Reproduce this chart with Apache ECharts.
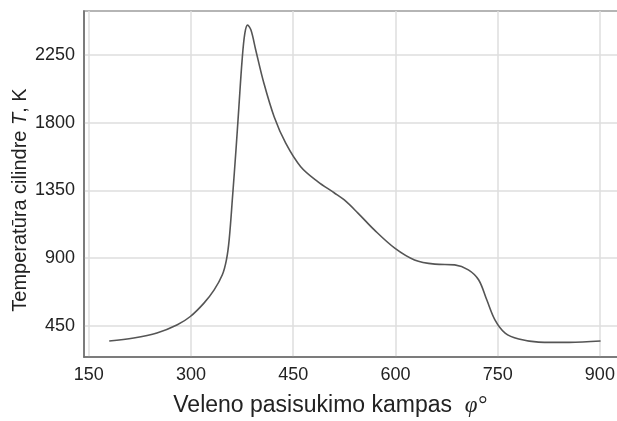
<!DOCTYPE html>
<html>
<head>
<meta charset="utf-8">
<script src="https://cdn.jsdelivr.net/npm/echarts@6/dist/echarts.min.js"></script>
<style>
  html, body { margin: 0; padding: 0; background: #fff; }
  #chart { width: 617px; height: 421px; }
</style>
</head>
<body>
<div id="chart"></div>
<script>
// Crank angle (degrees) and in-cylinder gas temperature (K)
const phi = [180, 216, 250, 280, 299, 319, 334, 346, 352, 356, 361, 366, 370, 375, 379, 383, 388, 395, 407, 422, 439, 461, 486, 510, 525, 545, 569, 599, 628, 658, 687, 707, 722, 734, 746, 761, 781, 810, 855, 901];
const temperature = [350, 370, 403, 458, 513, 602, 690, 790, 889, 1022, 1310, 1619, 1885, 2216, 2393, 2448, 2415, 2283, 2062, 1840, 1664, 1508, 1409, 1335, 1287, 1200, 1088, 967, 889, 861, 856, 823, 757, 624, 491, 403, 363, 343, 341, 350];

const xTicks = [150, 300, 450, 600, 750, 900];
const yTicks = [450, 900, 1350, 1800, 2250];

const points = phi.map((p, i) => [p, temperature[i]]);

const chart = echarts.init(document.getElementById('chart'), null, { renderer: 'canvas' });

const labelFont = { fontFamily: 'Liberation Sans, Arial, sans-serif', fontSize: 18, color: '#222' };
const plain = (v) => String(v);

chart.setOption({
  animation: false,
  backgroundColor: '#fff',
  grid: {
    show: true,
    outerBoundsMode: 'none',
    containLabel: false,
    left: 84, top: 11, right: -4, bottom: 64,
    borderColor: '#b5b5b5', borderWidth: 2,
    backgroundColor: 'transparent'
  },
  xAxis: {
    type: 'value',
    min: 143, max: 931,
    axisLine: { show: true, onZero: false, lineStyle: { color: '#6a6a6a', width: 1.5 } },
    axisTick: { show: false, customValues: xTicks },
    axisLabel: Object.assign({ customValues: xTicks, margin: 9, formatter: plain }, labelFont),
    splitLine: { show: true, lineStyle: { color: '#dedede', width: 1.5 } }
  },
  yAxis: {
    type: 'value',
    min: 244, max: 2542,
    axisLine: { show: true, onZero: false, lineStyle: { color: '#6a6a6a', width: 1.5 } },
    axisTick: { show: false, customValues: yTicks },
    axisLabel: Object.assign({ customValues: yTicks, margin: 9, formatter: plain }, labelFont),
    splitLine: { show: true, lineStyle: { color: '#dedede', width: 1.5 } }
  },
  graphic: [
    {
      type: 'text',
      x: 330, y: 406,
      style: {
        text: '{n|Veleno pasisukimo kampas  }{p|φ°}',
        align: 'center', verticalAlign: 'middle',
        rich: {
          n: { fontFamily: 'Liberation Sans, Arial, sans-serif', fontSize: 23, fill: '#222' },
          p: { fontFamily: 'Liberation Serif, serif', fontStyle: 'italic', fontSize: 23, fill: '#222' }
        }
      }
    },
    {
      type: 'text',
      x: 20, y: 200,
      rotation: Math.PI / 2,
      style: {
        text: '{n|Temperatūra cilindre }{i|T}{n|, K}',
        align: 'center', verticalAlign: 'middle',
        rich: {
          n: { fontFamily: 'Liberation Sans, Arial, sans-serif', fontSize: 20, fill: '#222' },
          i: { fontFamily: 'Liberation Sans, Arial, sans-serif', fontStyle: 'italic', fontSize: 20, fill: '#222' }
        }
      }
    }
  ],
  series: [{
    type: 'line',
    data: points,
    smooth: 0.35,
    showSymbol: false,
    lineStyle: { color: '#555', width: 1.6 },
    z: 5
  }]
});
</script>
</body>
</html>
